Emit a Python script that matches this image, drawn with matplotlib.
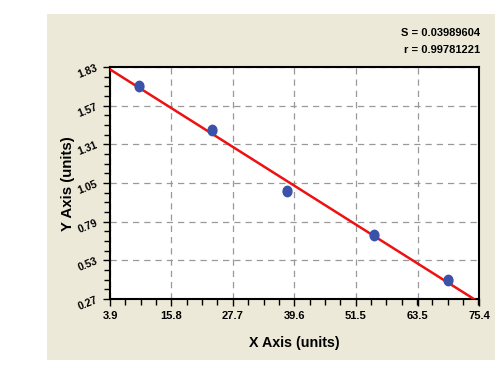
import numpy as np
import matplotlib
matplotlib.use("Agg")
import matplotlib.pyplot as plt
from matplotlib.patches import Rectangle
from matplotlib.path import Path
from matplotlib.transforms import Affine2D
from matplotlib.ticker import AutoMinorLocator

plt.rcParams['font.family'] = ['Liberation Sans', 'DejaVu Sans']

x_vals = [9.5, 23.7, 38.2, 55.05, 69.4]
y_vals = [1.704, 1.406, 0.998, 0.70, 0.40]
x_ticks = [3.9, 15.8, 27.7, 39.6, 51.5, 63.5, 75.4]
x_tick_labels = ["3.9", "15.8", "27.7", "39.6", "51.5", "63.5", "75.4"]
y_ticks = [0.27, 0.53, 0.79, 1.05, 1.31, 1.57, 1.83]
y_tick_labels = ["0.27", "0.53", "0.79", "1.05", "1.31", "1.57", "1.83"]
stats_text = ["S = 0.03989604", "r = 0.99781221"]

W, H = 503, 370
fig = plt.figure(figsize=(W/100, H/100), dpi=100)
fig.patch.set_facecolor('white')

bg = Rectangle((47/W, 1-360/H), (495-47)/W, (360-14)/H, transform=fig.transFigure,
               facecolor='#ECE9D8', edgecolor='none', zorder=-10)
fig.add_artist(bg)

ax = fig.add_axes([110/W, 1-299/H, (479-110)/W, (299-67)/H])
ax.set_zorder(1)
ax.set_facecolor('white')
ax.set_xlim(x_ticks[0], x_ticks[-1])
ax.set_ylim(y_ticks[0], y_ticks[-1])

ax.set_xticks(x_ticks)
ax.set_xticklabels(x_tick_labels, fontsize=8, fontweight='bold')
ax.set_yticks(y_ticks)
ax.set_yticklabels(y_tick_labels, fontsize=7.5, fontweight='bold', rotation=22)
ax.xaxis.set_minor_locator(AutoMinorLocator(4))
ax.yaxis.set_minor_locator(AutoMinorLocator(4))
ax.tick_params(which='major', direction='out', length=5, width=1, pad=3.5)
ax.tick_params(which='minor', direction='out', length=4, width=1)
ax.tick_params(axis='y', which='major', pad=3)

ax.grid(True, which='major', linestyle=(0, (5, 4)), color='#999999', linewidth=0.9)
ax.set_axisbelow(True)
for s in ax.spines.values():
    s.set_linewidth(1.5)
    s.set_color('black')

# fitted line
coef = np.polyfit(x_vals, y_vals, 1)
xl = np.array([x_ticks[0], x_ticks[-1]])
ax.plot(xl, np.polyval(coef, xl), color='#EE1111', linewidth=1.8, zorder=3, clip_on=True)

# ellipse marker
circ = Path.unit_circle()
ell = Path(Affine2D().scale(0.85, 1.0).transform(circ.vertices), circ.codes)
ax.plot(x_vals, y_vals, linestyle='none', marker=ell, markersize=7.5,
        color='#3A52A8', zorder=4)

ax.set_xlabel("X Axis (units)", fontsize=10.3, fontweight='bold')
ax.set_ylabel("Y Axis (units)", fontsize=10.8, fontweight='bold')
ax.xaxis.set_label_coords((294-110)/369, (299-343)/232)
ax.yaxis.set_label_coords((68-110)/369, (299-184)/232)
ax.xaxis.label.set_va('center')
ax.yaxis.label.set_va('center')

fig.text(480/W, 1-33/H, stats_text[0], ha='right', va='center', fontsize=8, fontweight='bold')
fig.text(480/W, 1-50/H, stats_text[1], ha='right', va='center', fontsize=8, fontweight='bold')

fig.savefig("out.png", dpi=100, facecolor='white')
